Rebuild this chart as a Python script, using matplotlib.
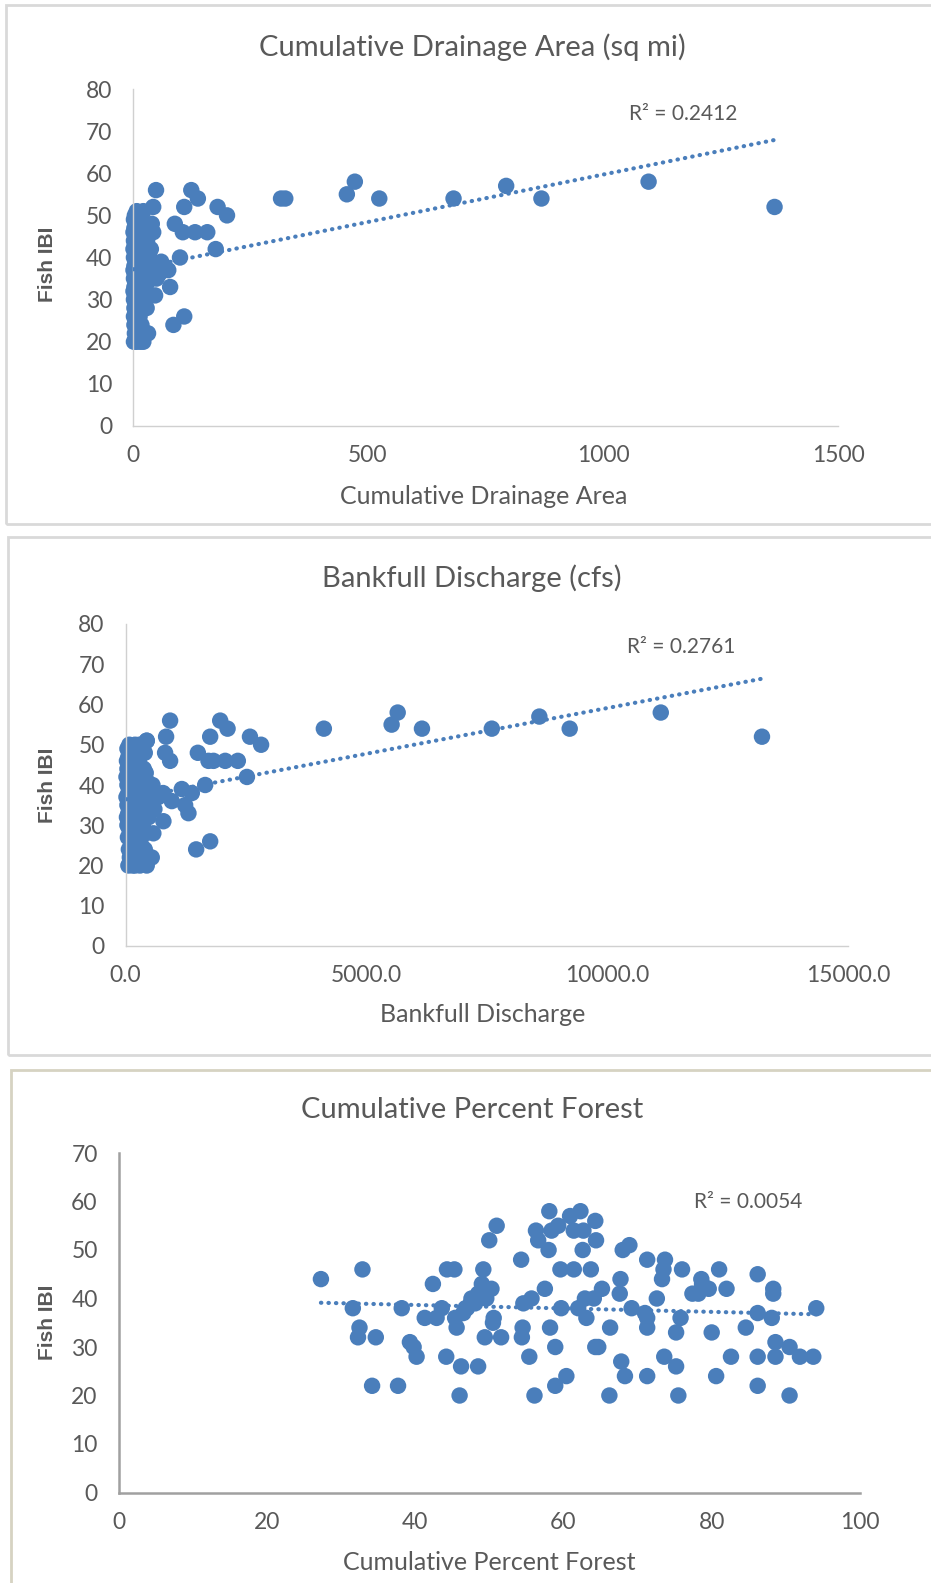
import matplotlib.pyplot as plt
import numpy as np
from matplotlib.patches import Rectangle

plt.rcParams['font.family'] = ['Lato', 'DejaVu Sans']

# --- data ------------------------------------------------------------------
# panel 1: cumulative drainage area (sq mi) vs fish IBI
area = [1365, 1097, 869, 794, 682, 524, 472, 455, 315, 324,
        200, 180, 176, 158, 132, 106, 89, 100, 86, 109,
        124, 138, 109, 49, 43, 40, 43, 75, 79, 47,
        29, 32, 60, 65, 55, 50, 35, 38, 30, 25,
        2, 8, 16, 22, 4, 12, 20, 3, 10, 18,
        6, 14, 2, 5, 12, 20, 3, 7, 2, 10,
        18, 4, 13, 1, 8, 16, 24, 3, 11, 5,
        14, 22, 30, 2, 9, 18, 4, 12, 26, 34,
        1, 8, 16, 3, 10, 20, 42, 6, 14, 24,
        2, 9, 18, 28, 5, 13, 22, 1, 8, 16,
        4, 12, 20, 2, 10, 18, 6, 15, 1, 9,
        3, 12, 5, 20, 2, 11, 4, 14, 22, 8]
ibi_area = [52, 58, 54, 57, 54, 54, 58, 55, 54, 54,
            50, 52, 42, 46, 46, 46, 48, 40, 24, 26,
            56, 54, 52, 56, 52, 48, 46, 37, 33, 31,
            28, 22, 39, 38, 36, 35, 40, 42, 44, 46,
            20, 20, 20, 20, 22, 22, 22, 24, 24, 24,
            25, 26, 26, 27, 28, 28, 28, 29, 30, 30,
            30, 31, 31, 32, 32, 32, 32, 33, 33, 34,
            34, 34, 34, 35, 35, 35, 36, 36, 36, 37,
            37, 37, 37, 38, 38, 38, 38, 39, 39, 39,
            40, 40, 40, 40, 41, 41, 41, 42, 42, 42,
            43, 43, 43, 44, 44, 44, 45, 45, 46, 46,
            47, 47, 48, 48, 49, 49, 50, 50, 51, 51]

# panel 2: bankfull discharge (cfs) vs fish IBI
discharge = [13214, 11113, 9222, 8592, 7605, 6155, 5651, 5525, 4118, 2815,
             2584, 2521, 2332, 926, 1966, 2119, 843, 1758, 198, 441,
             1502, 822, 1723, 1827, 2070, 94, 926, 1654, 1377, 1169,
             961, 1238, 1307, 787, 1467, 1758, 198, 441, 545, 578,
             60, 150, 300, 380, 90, 240, 400, 70, 200, 330,
             120, 280, 50, 110, 250, 420, 80, 160, 40, 210,
             360, 90, 270, 30, 170, 320, 480, 60, 230, 110,
             290, 440, 600, 40, 190, 360, 80, 250, 520, 680,
             20, 170, 330, 60, 210, 400, 780, 120, 290, 480,
             40, 180, 360, 560, 100, 260, 440, 20, 160, 330,
             80, 240, 420, 40, 200, 380, 120, 300, 30, 180,
             60, 250, 100, 400, 40, 220, 80, 290, 440, 160]
ibi_discharge = [52, 58, 54, 57, 54, 54, 58, 55, 54, 50,
                 52, 42, 46, 56, 56, 54, 52, 52, 50, 51,
                 48, 48, 46, 46, 46, 45, 46, 40, 38, 39,
                 36, 35, 33, 31, 24, 26, 20, 20, 22, 28,
                 20, 20, 20, 22, 22, 22, 24, 24, 24, 25,
                 26, 26, 27, 28, 28, 28, 29, 30, 30, 30,
                 30, 31, 31, 32, 32, 32, 32, 33, 33, 34,
                 34, 34, 34, 35, 35, 35, 36, 36, 36, 37,
                 37, 37, 37, 38, 38, 38, 38, 39, 39, 39,
                 40, 40, 40, 40, 41, 41, 41, 42, 42, 42,
                 43, 43, 43, 44, 44, 44, 45, 45, 46, 46,
                 47, 47, 48, 48, 49, 49, 50, 50, 51, 44]

# panel 3: cumulative percent forest vs fish IBI
forest = [27.3, 32.9, 31.6, 32.5, 32.3, 34.7, 34.2, 37.7, 38.2, 42.4,
          39.3, 39.8, 40.2, 41.3, 42.9, 43.6, 44.3, 45.3, 44.2, 45.4,
          45.6, 46.2, 46.0, 47.6, 46.8, 46.5, 47.0, 47.5, 48.0, 48.5,
          51.0, 50.0, 49.2, 49.0, 50.3, 48.1, 49.6, 50.6, 50.5, 49.4,
          51.6, 48.5, 54.3, 54.6, 55.7, 57.5, 54.5, 54.4, 55.4, 56.1,
          58.1, 56.3, 56.6, 58.0, 58.4, 59.3, 59.6, 61.4, 59.7, 58.2,
          58.9, 58.9, 60.4, 60.9, 62.3, 61.4, 62.7, 64.3, 64.4, 62.6,
          63.7, 62.0, 62.9, 64.1, 65.2, 63.1, 66.3, 64.3, 64.7, 66.2,
          68.0, 68.9, 67.7, 67.6, 69.2, 67.8, 68.3, 71.3, 71.0, 71.3,
          71.3, 71.3, 73.7, 73.5, 73.3, 72.6, 76.0, 78.6, 77.4, 78.2,
          79.6, 78.7, 81.0, 82.0, 75.8, 75.2, 73.6, 75.2, 75.5, 80.0,
          80.6, 82.6, 84.6, 86.2, 86.2, 86.2, 86.2, 88.1, 88.3, 88.3,
          88.6, 88.6, 90.5, 90.5, 91.9, 93.7, 94.1]
ibi_forest = [44, 46, 38, 34, 32, 32, 22, 22, 38, 43,
              31, 30, 28, 36, 36, 38, 46, 46, 28, 36,
              34, 26, 20, 40, 38, 37, 38, 39, 40, 41,
              55, 52, 46, 43, 42, 39, 40, 36, 35, 32,
              32, 26, 48, 39, 40, 42, 34, 32, 28, 20,
              58, 54, 52, 50, 54, 55, 46, 46, 38, 34,
              30, 22, 24, 57, 58, 54, 54, 56, 52, 50,
              46, 38, 40, 40, 42, 36, 34, 30, 30, 20,
              50, 51, 44, 41, 38, 27, 24, 48, 37, 36,
              34, 24, 48, 46, 44, 40, 46, 44, 41, 41,
              42, 43, 46, 42, 36, 33, 28, 26, 20, 33,
              24, 28, 34, 45, 37, 28, 22, 36, 42, 41,
              31, 28, 30, 20, 28, 28, 38]

r2_labels = ["R\u00b2 = 0.2412", "R\u00b2 = 0.2761", "R\u00b2 = 0.0054"]
titles = ["Cumulative Drainage Area (sq mi)", "Bankfull Discharge (cfs)",
          "Cumulative Percent Forest"]
xlabels = ["Cumulative Drainage Area", "Bankfull Discharge",
           "Cumulative Percent Forest"]

# --- figure -----------------------------------------------------------------
W, H = 931, 1583
fig = plt.figure(figsize=(W / 100, H / 100), dpi=100)
GREY = '#595959'
BLUE = '#4a7ebb'


def fx(px):
    return px / W


def fy(py):
    return 1 - py / H


def frame(left, top, bottom, color):
    fig.add_artist(Rectangle((fx(left), fy(bottom)), fx(W + 10) - fx(left),
                             fy(top) - fy(bottom), transform=fig.transFigure,
                             fill=False, ec=color, lw=2))


def panel(box, x, y, xlim, xticks, ylim, yticks, fmt, title, title_y,
          xlabel, xlabel_y, r2, r2_xy, ylabel_y, spine_color, spine_lw):
    left, right, top, bottom = box
    ax = fig.add_axes([fx(left), fy(bottom), fx(right) - fx(left),
                       fy(top) - fy(bottom)])
    ax.scatter(x, y, s=140, color=BLUE, edgecolors='none', zorder=2,
               clip_on=False)
    k = np.polyfit(x, y, 1)
    xs = np.array([min(x), max(x)])
    ax.plot(xs, np.polyval(k, xs), color=BLUE, lw=3,
            ls=(0, (0.1, 1.7)), dash_capstyle='round', zorder=3)
    ax.set_xlim(*xlim)
    ax.set_ylim(*ylim)
    ax.set_xticks(xticks)
    ax.set_yticks(yticks)
    ax.set_xticklabels([fmt.format(t) for t in xticks])
    for s in ['top', 'right']:
        ax.spines[s].set_visible(False)
    for s in ['left', 'bottom']:
        ax.spines[s].set_color(spine_color)
        ax.spines[s].set_linewidth(spine_lw)
    ax.tick_params(length=0, labelsize=16.5, colors=GREY)
    ax.tick_params(axis='y', pad=15)
    ax.tick_params(axis='x', pad=14)
    fig.text(fx(472), fy(title_y), title, ha='center', va='center',
             fontsize=21, color=GREY)
    fig.text(fx(xlabel_y[0]), fy(xlabel_y[1]), xlabel, ha='center',
             va='center', fontsize=18, color=GREY)
    fig.text(fx(r2_xy[0]), fy(r2_xy[1]), r2, ha='center', va='center',
             fontsize=15, color=GREY)
    fig.text(fx(47.5), fy(ylabel_y), 'Fish IBI', rotation=90, ha='center',
             va='center', fontsize=15, fontweight='bold', color=GREY,
             family=['Liberation Sans', 'DejaVu Sans'])
    return ax


frame(6, 5, 524, '#d9d9d9')
frame(8, 537, 1055, '#d9d9d9')
frame(11, 1070, 1595, '#d6d3c2')

panel((133, 838, 89, 426), area, ibi_area, (0, 1500), [0, 500, 1000, 1500],
      (0, 80), range(0, 81, 10), '{:d}', titles[0], 47.5,
      xlabels[0], (484, 497), r2_labels[0], (683, 114), 264.5,
      '#d0d0d0', 1.0)

panel((125.5, 848, 624, 946), discharge, ibi_discharge, (0, 15000),
      [0, 5000, 10000, 15000], (0, 80), range(0, 81, 10), '{:.1f}',
      titles[1], 578.5, xlabels[1], (483, 1015), r2_labels[1], (681.5, 647),
      785.5, '#d0d0d0', 1.0)

panel((118.5, 860, 1153, 1492.5), forest, ibi_forest, (0, 100),
      [0, 20, 40, 60, 80, 100], (0, 70), range(0, 71, 10), '{:d}',
      titles[2], 1110.5, xlabels[2], (489, 1563), r2_labels[2], (748, 1201.5),
      1322.5, '#a0a0a0', 1.8)

fig.savefig('out.png', dpi=100)
